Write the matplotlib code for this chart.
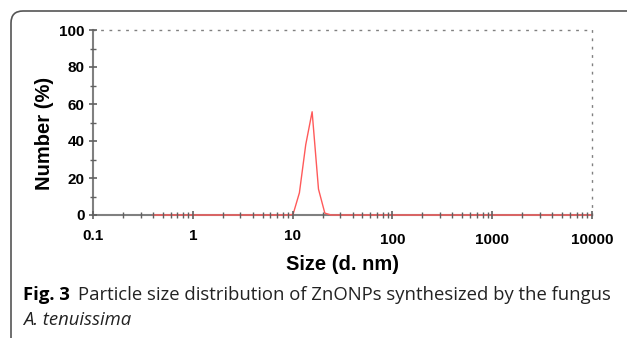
import matplotlib
matplotlib.use("Agg")
import matplotlib.pyplot as plt
from matplotlib.patches import PathPatch
from matplotlib.path import Path
from matplotlib.ticker import FixedLocator, NullFormatter

# Data
size_nm = [0.4, 8.72, 10.1, 11.7, 13.54, 15.69, 18.17, 21.04, 24.36, 10000]
number_pct = [0, 0, 0.3, 12, 38, 55.8, 14, 1, 0, 0]
x_ticks = [0.1, 1, 10, 100, 1000, 10000]
x_tick_labels = ["0.1", "1", "10", "100", "1000", "10000"]
y_ticks = [0, 20, 40, 60, 80, 100]

W, H = 627, 338
fig = plt.figure(figsize=(W / 100, H / 100), dpi=100)
fig.patch.set_facecolor("white")

left, right, top, bottom = 93, 592, 30, 215
ax = fig.add_axes([left / W, 1 - bottom / H, (right - left) / W, (bottom - top) / H])
ax.set_facecolor("white")

ax.plot(size_nm, number_pct, color="#ff5a5a", lw=1.0, zorder=2.7, clip_on=False)
ax.xaxis.set_zorder(2.8)
ax.yaxis.set_zorder(2.8)

ax.set_xscale("log")
ax.set_xlim(0.1, 10000)
ax.set_ylim(0, 100)

gray = "#808080"
for s in ["left", "bottom"]:
    ax.spines[s].set_color(gray)
    ax.spines[s].set_linewidth(1.5)
for s in ["top", "right"]:
    ax.spines[s].set_color(gray)
    ax.spines[s].set_linewidth(1.0)
    ax.spines[s].set_linestyle((0, (1, 5)))

ax.xaxis.set_major_locator(FixedLocator(x_ticks))
ax.set_xticklabels(x_tick_labels)
minors = [m * d for d in [0.1, 1, 10, 100, 1000] for m in range(2, 10)]
ax.xaxis.set_minor_locator(FixedLocator(minors))
ax.xaxis.set_minor_formatter(NullFormatter())
ax.yaxis.set_major_locator(FixedLocator(y_ticks))
ax.yaxis.set_minor_locator(FixedLocator([10, 30, 50, 70, 90]))

ax.tick_params(axis="both", which="major", direction="inout", length=6, width=1.2,
               color="#606060", labelsize=11)
ax.tick_params(axis="both", which="minor", direction="inout", length=4, width=1.0,
               color="#606060")
ax.tick_params(axis="x", which="major", pad=7)
ax.tick_params(axis="y", which="major", pad=3)
for lab in ax.get_xticklabels() + ax.get_yticklabels():
    lab.set_fontfamily("Liberation Sans")
    lab.set_fontweight("bold")

xt = ax.xaxis.get_major_ticks()
for i, t in enumerate(xt):
    if i >= 3:
        t.set_pad(10)

fig.text((left + right) / 2 / W, 1 - 265 / H, "Size (d. nm)", ha="center", va="center",
         fontsize=14.5, fontweight="bold", family="Liberation Sans")
fig.text(45 / W, 1 - 133 / H, "Number (%)", ha="center", va="center", rotation=90,
         fontsize=14.5, fontweight="bold", family="Liberation Sans")

# caption
cap_x = 23
cap_y = 1 - 295 / H
fs = 13.3
t1 = fig.text(cap_x / W, cap_y, "Fig. 3", ha="left", va="center", fontsize=fs,
              fontweight="bold", family="Open Sans")
fig.canvas.draw()
bb = t1.get_window_extent()
fig.text((bb.x1 + 8) / W, cap_y, "Particle size distribution of ZnONPs synthesized by the fungus",
         ha="left", va="center", fontsize=fs, family="Open Sans", color="#222222")
fig.text(cap_x / W, 1 - 320 / H, "A. tenuissima", ha="left", va="center", fontsize=fs,
         style="italic", family="Open Sans", color="#222222")

# frame
x0, y0, r = 11, 11, 12
verts = [(x0 / W, 0.0), (x0 / W, 1 - (y0 + r) / H), (x0 / W, 1 - y0 / H),
         ((x0 + r) / W, 1 - y0 / H), (1.0, 1 - y0 / H)]
codes = [Path.MOVETO, Path.LINETO, Path.CURVE3, Path.CURVE3, Path.LINETO]
fig.add_artist(PathPatch(Path(verts, codes), transform=fig.transFigure, fill=False,
                         edgecolor="#555555", lw=1.2))

fig.savefig("out.png", dpi=100, facecolor="white")
